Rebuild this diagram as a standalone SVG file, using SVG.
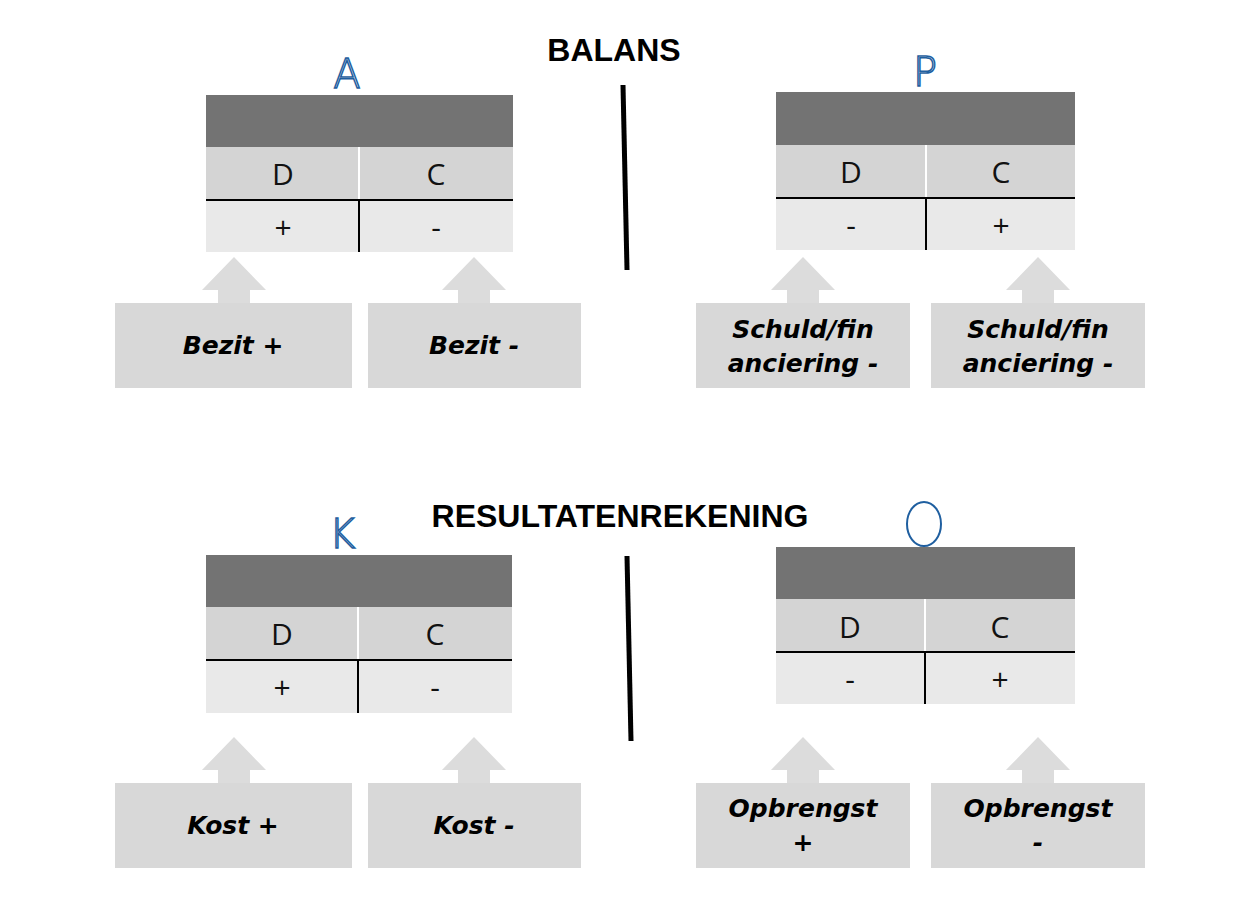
<svg xmlns="http://www.w3.org/2000/svg" width="1247" height="905" viewBox="0 0 1247 905">
<style>
.hd{fill:#737373}.r1{fill:#d4d4d4}.r2{fill:#e9e9e9}.bx{fill:#d8d8d8}.ar{fill:#dcdcdc}
.dc{font-family:"Open Sans","DejaVu Sans",sans-serif;font-size:30px;text-anchor:middle;fill:#111}
.bt{font-family:"DejaVu Sans",sans-serif;font-weight:bold;font-style:italic;font-size:25px;text-anchor:middle;fill:#000}
.tt{font-family:"Liberation Sans",Arial,sans-serif;font-weight:bold;font-size:32px;text-anchor:middle;fill:#000}
.hw{font-family:"DejaVu Sans",sans-serif;font-size:40px;font-weight:200;fill:none;stroke:#1f5fa0;stroke-width:1.5;text-anchor:middle}
.bl{stroke:#000;stroke-width:2}.wl{stroke:#fff;stroke-width:2}
</style>
<rect width="1247" height="905" fill="#fff"/>
<text class="tt" x="614" y="61">BALANS</text>
<text class="tt" x="620" y="527">RESULTATENREKENING</text>
<g id="connectors">
<line x1="623" y1="85" x2="627" y2="270" stroke="#000" stroke-width="5"/>
<line x1="627" y1="556" x2="631" y2="741" stroke="#000" stroke-width="5"/>
<path class="ar" d="M234,257 L266,290 L250,290 L250,303 L218,303 L218,290 L202,290Z"/>
<path class="ar" d="M474,257 L506,290 L490,290 L490,303 L458,303 L458,290 L442,290Z"/>
<path class="ar" d="M803,257 L835,290 L819,290 L819,303 L787,303 L787,290 L771,290Z"/>
<path class="ar" d="M1038,257 L1070,290 L1054,290 L1054,303 L1022,303 L1022,290 L1006,290Z"/>
<path class="ar" d="M234,737 L266,770 L250,770 L250,783 L218,783 L218,770 L202,770Z"/>
<path class="ar" d="M474,737 L506,770 L490,770 L490,783 L458,783 L458,770 L442,770Z"/>
<path class="ar" d="M803,737 L835,770 L819,770 L819,783 L787,783 L787,770 L771,770Z"/>
<path class="ar" d="M1038,737 L1070,770 L1054,770 L1054,783 L1022,783 L1022,770 L1006,770Z"/>
</g>
<g id="tableA">
<text class="hw" x="347" y="88">A</text>
<rect class="hd" x="206" y="95" width="307" height="52"/>
<rect class="r1" x="206" y="147" width="307" height="53"/>
<rect class="r2" x="206" y="200" width="307" height="52"/>
<line class="wl" x1="359" y1="147" x2="359" y2="200"/>
<line class="bl" x1="206" y1="200" x2="513" y2="200"/>
<line class="bl" x1="359" y1="200" x2="359" y2="252"/>
<text class="dc" x="283" y="185">D</text><text class="dc" x="436" y="185">C</text>
<text class="dc" x="283" y="238">+</text><text class="dc" x="436" y="238">-</text>
</g>
<g id="tableP">
<text class="hw" x="925" y="86">P</text>
<rect class="hd" x="776" y="92" width="299" height="53"/>
<rect class="r1" x="776" y="145" width="299" height="53"/>
<rect class="r2" x="776" y="198" width="299" height="52"/>
<line class="wl" x1="926" y1="145" x2="926" y2="198"/>
<line class="bl" x1="776" y1="198" x2="1075" y2="198"/>
<line class="bl" x1="926" y1="198" x2="926" y2="250"/>
<text class="dc" x="851" y="183">D</text><text class="dc" x="1001" y="183">C</text>
<text class="dc" x="851" y="236">-</text><text class="dc" x="1001" y="236">+</text>
</g>
<g id="tableK">
<text class="hw" x="342" y="548">K</text>
<rect class="hd" x="206" y="555" width="306" height="52"/>
<rect class="r1" x="206" y="607" width="306" height="53"/>
<rect class="r2" x="206" y="660" width="306" height="53"/>
<line class="wl" x1="358" y1="607" x2="358" y2="660"/>
<line class="bl" x1="206" y1="660" x2="512" y2="660"/>
<line class="bl" x1="358" y1="660" x2="358" y2="713"/>
<text class="dc" x="282" y="645">D</text><text class="dc" x="435" y="645">C</text>
<text class="dc" x="282" y="698">+</text><text class="dc" x="435" y="698">-</text>
</g>
<g id="tableO">
<ellipse cx="924" cy="524" rx="17" ry="22" fill="none" stroke="#1f5fa0" stroke-width="2"/>
<rect class="hd" x="776" y="547" width="299" height="52"/>
<rect class="r1" x="776" y="599" width="299" height="53"/>
<rect class="r2" x="776" y="652" width="299" height="52"/>
<line class="wl" x1="925" y1="599" x2="925" y2="652"/>
<line class="bl" x1="776" y1="652" x2="1075" y2="652"/>
<line class="bl" x1="925" y1="652" x2="925" y2="704"/>
<text class="dc" x="850" y="638">D</text><text class="dc" x="1000" y="638">C</text>
<text class="dc" x="850" y="690">-</text><text class="dc" x="1000" y="690">+</text>
</g>
<g id="bezitPlus"><rect class="bx" x="115" y="303" width="237" height="85"/><text class="bt" x="233" y="354">Bezit +</text></g>
<g id="bezitMin"><rect class="bx" x="368" y="303" width="213" height="85"/><text class="bt" x="474" y="354">Bezit -</text></g>
<g id="schuldMin1"><rect class="bx" x="696" y="303" width="214" height="85"/><text class="bt" x="803" y="338">Schuld/fin</text><text class="bt" x="803" y="372">anciering -</text></g>
<g id="schuldMin2"><rect class="bx" x="931" y="303" width="214" height="85"/><text class="bt" x="1038" y="338">Schuld/fin</text><text class="bt" x="1038" y="372">anciering -</text></g>
<g id="kostPlus"><rect class="bx" x="115" y="783" width="237" height="85"/><text class="bt" x="233" y="834">Kost +</text></g>
<g id="kostMin"><rect class="bx" x="368" y="783" width="213" height="85"/><text class="bt" x="474" y="834">Kost -</text></g>
<g id="opbrPlus"><rect class="bx" x="696" y="783" width="214" height="85"/><text class="bt" x="803" y="817">Opbrengst</text><text class="bt" x="803" y="851">+</text></g>
<g id="opbrMin"><rect class="bx" x="931" y="783" width="214" height="85"/><text class="bt" x="1038" y="817">Opbrengst</text><text class="bt" x="1038" y="851">-</text></g>
</svg>
